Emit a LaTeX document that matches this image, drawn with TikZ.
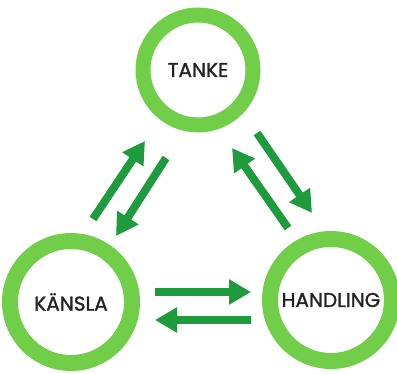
\documentclass[tikz,border=0pt]{standalone}
\usepackage{fontspec}
\setmainfont{Poppins}[FakeBold=1.3]
\usetikzlibrary{arrows.meta}
\definecolor{ringgreen}{RGB}{112,206,72}
\definecolor{arrowgreen}{RGB}{30,155,60}
\definecolor{labelgray}{RGB}{35,35,35}
\tikzset{
  ring/.style={circle, draw=ringgreen, fill=white, inner sep=0pt,
    text=labelgray, font=\fontsize{20}{20}\selectfont},
  smallring/.style={ring, line width=15pt, minimum size=110pt},
  bigring/.style={ring, line width=16pt, minimum size=122pt},
  flow/.style={draw=arrowgreen, line width=8pt,
    -{Triangle[width=24pt,length=22pt]}}
}
\begin{document}
\begin{tikzpicture}[x=1pt,y=-1pt]
  \useasboundingbox (0,0) rectangle (397,374);
  % the three states
  \node[smallring] (tanke) at (198,70) {TANKE};
  \node[bigring] (kansla) at (71,302) {KÄNSLA};
  \node[bigring] (handling) at (331,300) {HANDLING};
  % arrow end points between the rings
  \coordinate (kt1) at (93,219);  \coordinate (kt2) at (145,141);
  \coordinate (tk1) at (166,158); \coordinate (tk2) at (116,236);
  \coordinate (ht1) at (288,228); \coordinate (ht2) at (232,148);
  \coordinate (th1) at (257,133); \coordinate (th2) at (312,213);
  \coordinate (kh1) at (155,292); \coordinate (kh2) at (251,292);
  \coordinate (hk1) at (251,320); \coordinate (hk2) at (155,320);
  % two-way influence
  \draw[flow] (kt1) -- (kt2);
  \draw[flow] (tk1) -- (tk2);
  \draw[flow] (ht1) -- (ht2);
  \draw[flow] (th1) -- (th2);
  \draw[flow] (kh1) -- (kh2);
  \draw[flow] (hk1) -- (hk2);
\end{tikzpicture}
\end{document}
